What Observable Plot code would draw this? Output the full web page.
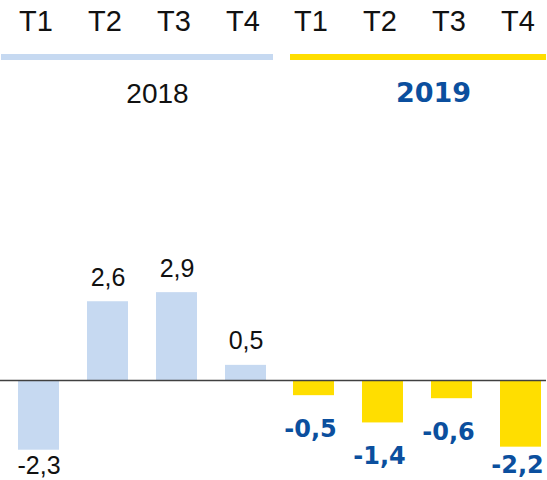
<!DOCTYPE html>
<html><head><meta charset="utf-8">
<script src="https://cdn.jsdelivr.net/npm/d3@7"></script>
<script src="https://cdn.jsdelivr.net/npm/@observablehq/plot@0.6"></script>
<style>body{margin:0;background:#fff} svg{font-family:"Liberation Sans",Arial,sans-serif}</style>
</head><body><div id="chart"></div><script>
const years = ["2018", "2019"];
const quarters = ["T1", "T2", "T3", "T4"];
const values2018 = [-2.3, 2.6, 2.9, 0.5];
const values2019 = [-0.5, -1.4, -0.6, -2.2];

const rows = [
  ...quarters.map((q, i) => ({year: "2018", quarter: q, value: values2018[i]})),
  ...quarters.map((q, i) => ({year: "2019", quarter: q, value: values2019[i]}))
];
const yearColor = {"2018": "#c6d9f1", "2019": "#ffde00"};
const blue = "#0b4f9e";
const boldFont = "'DejaVu Sans', Verdana, sans-serif";
const fmt = v => v.toFixed(1).replace(".", ",");
const header = years.flatMap(y => quarters.map(q => ({year: y, quarter: q})));
const yearRows = years.map(y => ({year: y}));
const negLabelY = d => Math.max(d.value - 0.8, -2.5);

const plot = Plot.plot({
  width: 547, height: 480,
  marginTop: 54, marginBottom: 0, marginLeft: 0, marginRight: 0,
  fx: {domain: years, paddingInner: 0.018, paddingOuter: 0, axis: null},
  x: {domain: quarters, range: [3, 279], paddingInner: 0.406, paddingOuter: 0.203, axis: null},
  y: {domain: [-3.3, 10.76], axis: null},
  marks: [
    Plot.rect(yearRows.filter(d => d.year === "2018"), {fx: "year", fill: yearColor["2018"], insetBottom: 420, insetRight: -2}),
    Plot.rect(yearRows.filter(d => d.year === "2019"), {fx: "year", fill: yearColor["2019"], insetBottom: 420, insetLeft: 14}),
    Plot.text(header, {fx: "year", x: "quarter", text: "quarter", frameAnchor: "top", lineAnchor: "bottom", dy: -24, dx: -3, fontSize: 29, fill: "#111"}),
    Plot.text(yearRows.filter(d => d.year === "2018"), {fx: "year", text: "year", frameAnchor: "top", lineAnchor: "bottom", dy: 48, dx: 21, fontSize: 28, fill: "#111"}),
    Plot.text(yearRows.filter(d => d.year === "2019"), {fx: "year", text: "year", frameAnchor: "top", lineAnchor: "bottom", dy: 47, dx: 22, fontSize: 27, fontWeight: "bold", fontFamily: boldFont, fill: blue}),
    Plot.barY(rows, {fx: "year", x: "quarter", y: "value", fill: d => yearColor[d.year]}),
    Plot.ruleY([0], {stroke: "#404040", strokeWidth: 1.5, insetLeft: -5}),
    Plot.text(rows.filter(d => d.year === "2018" && d.value >= 0), {fx: "year", x: "quarter", y: "value", text: d => fmt(d.value),
      lineAnchor: "bottom", dy: -16, fontSize: 25, fill: "#111"}),
    Plot.text(rows.filter(d => d.year === "2018" && d.value < 0), {fx: "year", x: "quarter", y: negLabelY, text: d => fmt(d.value),
      lineAnchor: "top", fontSize: 25, fill: "#111"}),
    Plot.text(rows.filter(d => d.year === "2019"), {fx: "year", x: "quarter", y: negLabelY, text: d => fmt(d.value),
      lineAnchor: "top", dx: -3.5, fontSize: 24, fontWeight: "bold", fontFamily: boldFont, fill: blue})
  ]
});
document.getElementById("chart").appendChild(plot);
</script></body></html>
